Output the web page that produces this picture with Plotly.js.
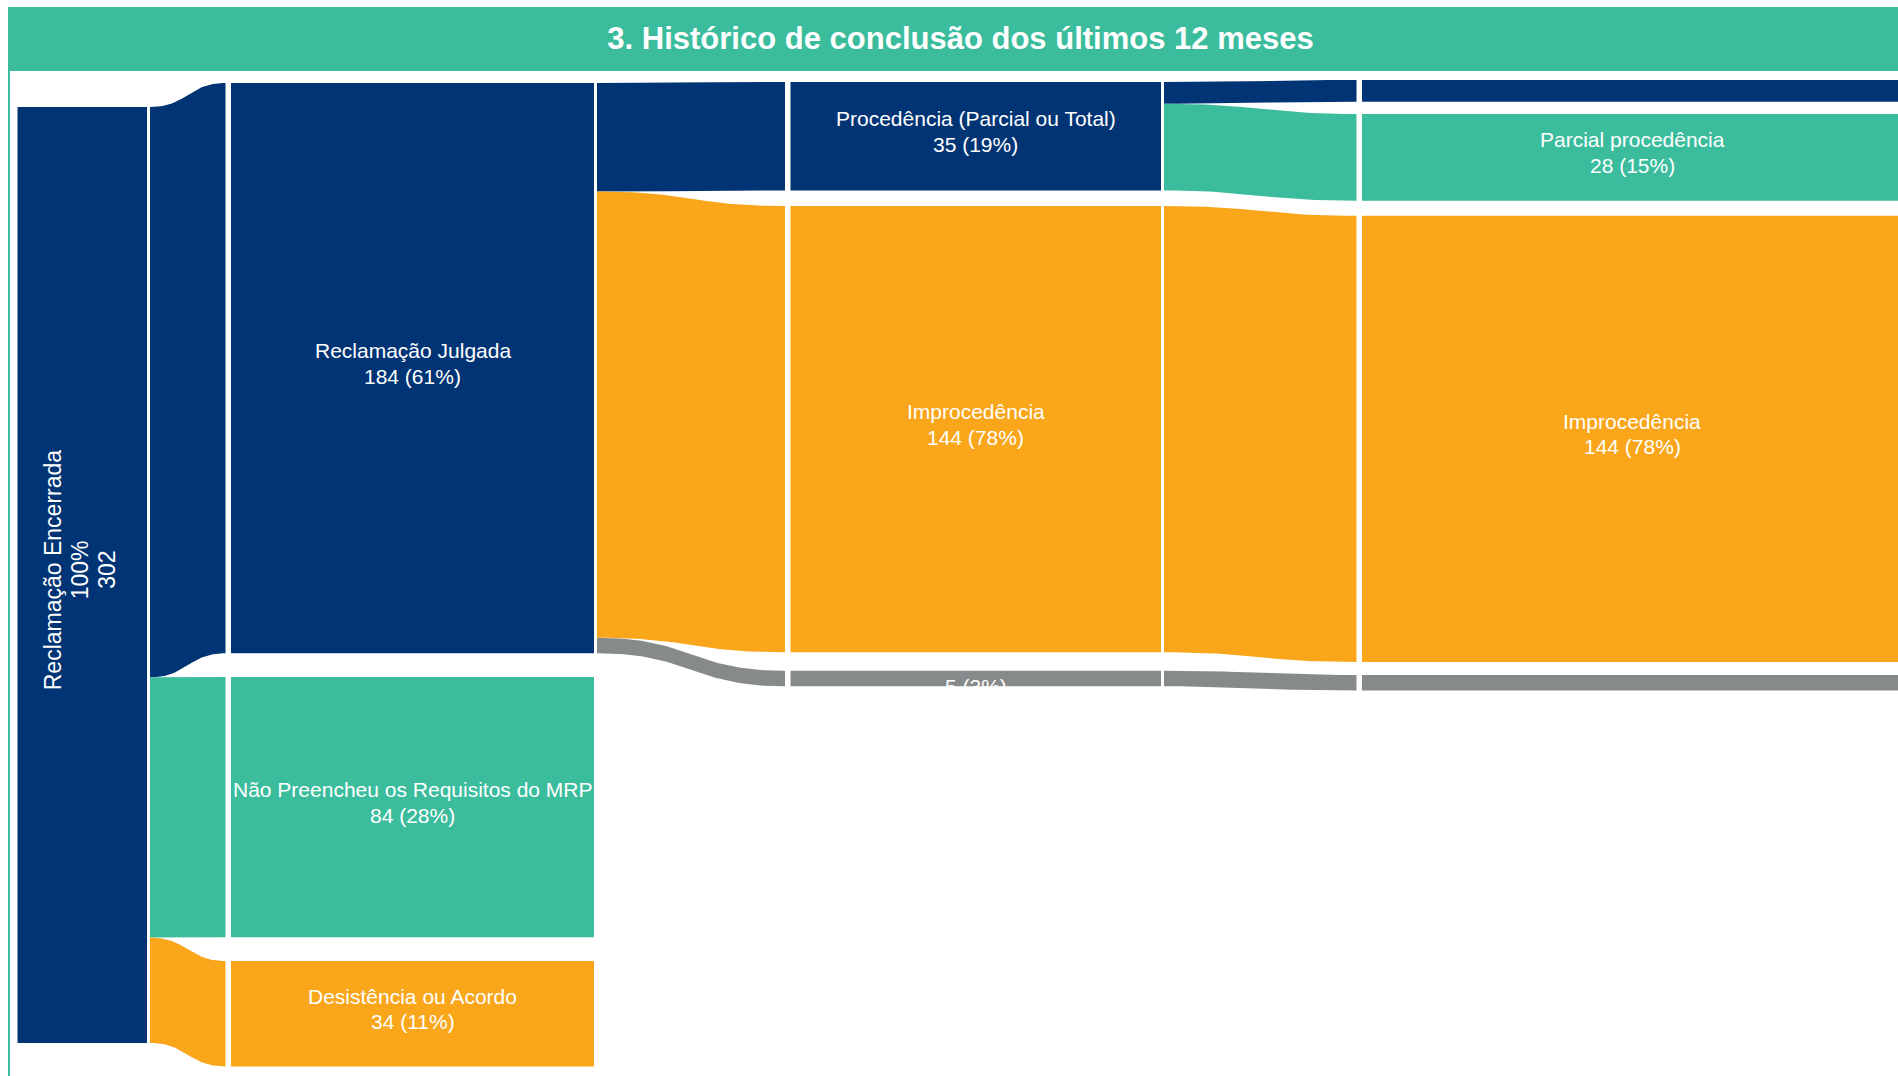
<!DOCTYPE html>
<html>
<head>
<meta charset="utf-8">
<script src="https://cdn.plot.ly/plotly-3.0.1.min.js"></script>
<style>
  html, body { margin: 0; padding: 0; background: #ffffff; }
  #chart { width: 1898px; height: 1076px; }
</style>
</head>
<body>
<div id="chart"></div>
<script>
// ---------------- DATA ----------------
const nodeNames = [
  "Reclamação Encerrada",
  "Reclamação Julgada",
  "Não Preencheu os Requisitos do MRP",
  "Desistência ou Acordo",
  "Procedência (Parcial ou Total)",
  "Improcedência",
  "",
  "",
  "Parcial procedência",
  "Improcedência",
  ""
];
const nodeValues   = [302, 184, 84, 34, 35, 144, 5, 7, 28, 144, 5];
const nodePercents = [100, 61, 28, 11, 19, 78, 3, 4, 15, 78, 3];
const nodeColumn   = [0, 1, 1, 1, 2, 2, 2, 3, 3, 3, 3];

const linkSource = [0, 0, 0, 1, 1, 1, 4, 4, 5, 6];
const linkTarget = [1, 2, 3, 4, 5, 6, 7, 8, 9, 10];
const linkValue  = [184, 84, 34, 35, 144, 5, 7, 28, 144, 5];

const chartTitle = "3. Histórico de conclusão dos últimos 12 meses";

// ---------------- STYLE / LAYOUT ----------------
const NAVY = "#013474", TEAL = "#3bbd9d", ORANGE = "#f9a61b", GRAY = "#878a8a";
const nodeColors = [NAVY, NAVY, TEAL, ORANGE, NAVY, ORANGE, GRAY, NAVY, TEAL, ORANGE, GRAY];
// label style per node: rotated | two | valueOnly | none
const labelMode = ["rotated", "two", "two", "two", "two", "two", "valueOnly", "none", "two", "two", "none"];

const W = 1898, H = 1076;
const K = 936 / 302;                // pixels per case
const ORIGIN = 107;                  // pixel row of value 0
const toU = px => (px - ORIGIN) / K; // pixel offset -> value units

const colX = [[17.5, 147], [231, 594], [790.5, 1161], [1362, 1902]];
const colTopPx = [107, 83, 82, 80];
const colGapsPx = [[], [23.7, 23.7], [15.5, 18.5], [12.3, 15, 13]];
const LINK_PAD_L = 3, LINK_PAD_R = 5.5;

// ---------------- NODE POSITIONS ----------------
const nodeY0 = [], nodeY1 = [];
const colCursor = colTopPx.map(p => toU(p));
const colCount = [0, 0, 0, 0];
nodeValues.forEach((v, i) => {
  const c = nodeColumn[i];
  if (colCount[c] > 0) colCursor[c] += colGapsPx[c][colCount[c] - 1] / K;
  nodeY0[i] = colCursor[c];
  nodeY1[i] = colCursor[c] + v;
  colCursor[c] = nodeY1[i];
  colCount[c]++;
});

const traces = [];

// ---------------- LINKS ----------------
const outOff = nodeY0.slice(), inOff = nodeY0.slice();
function bez(p0, p1, p2, p3, t) {
  const m = 1 - t;
  return m * m * m * p0 + 3 * m * m * t * p1 + 3 * m * t * t * p2 + t * t * t * p3;
}
linkValue.forEach((v, i) => {
  const s = linkSource[i], t = linkTarget[i];
  const c = nodeColumn[s];
  const xL = colX[c][1] + LINK_PAD_L, xR = colX[c + 1][0] - LINK_PAD_R, xm = (xL + xR) / 2;
  const sTop = outOff[s], sBot = sTop + v; outOff[s] = sBot;
  const tTop = inOff[t], tBot = tTop + v; inOff[t] = tBot;
  const xs = [], ys = [];
  const N = 48;
  for (let k = 0; k <= N; k++) {
    const u = k / N;
    xs.push(bez(xL, xm, xm, xR, u)); ys.push(bez(sTop, sTop, tTop, tTop, u));
  }
  for (let k = N; k >= 0; k--) {
    const u = k / N;
    xs.push(bez(xL, xm, xm, xR, u)); ys.push(bez(sBot, sBot, tBot, tBot, u));
  }
  xs.push(xs[0]); ys.push(ys[0]);
  traces.push({
    type: "scatter", mode: "lines", x: xs, y: ys, fill: "toself",
    fillcolor: nodeColors[t], line: { width: 0, color: nodeColors[t] },
    hoverinfo: "skip", showlegend: false
  });
});

// ---------------- NODES ----------------
nodeValues.forEach((v, i) => {
  const c = nodeColumn[i];
  const x0 = colX[c][0], x1 = colX[c][1];
  traces.push({
    type: "scatter", mode: "lines",
    x: [x0, x1, x1, x0, x0], y: [nodeY0[i], nodeY0[i], nodeY1[i], nodeY1[i], nodeY0[i]],
    fill: "toself", fillcolor: nodeColors[i], line: { width: 0, color: nodeColors[i] },
    hoverinfo: "skip", showlegend: false
  });
});

// ---------------- LABELS ----------------
const FONT = "Liberation Sans, Arial, Helvetica, sans-serif";
const annotations = [];
nodeValues.forEach((v, i) => {
  const c = nodeColumn[i];
  const cx = (colX[c][0] + colX[c][1]) / 2;
  const cy = (nodeY0[i] + nodeY1[i]) / 2;
  const base = { x: cx, y: cy, xref: "x", yref: "y", showarrow: false,
                 xanchor: "center", yanchor: "middle",
                 font: { family: FONT, size: 21, color: "#ffffff" } };
  const valueLine = v + " (" + nodePercents[i] + "%)";
  if (labelMode[i] === "rotated") {
    const lines = [nodeNames[i], nodePercents[i] + "%", String(v)];
    const shifts = [-29, -2, 24.5];
    lines.forEach((txt, j) => {
      annotations.push(Object.assign({}, base, {
        text: txt, textangle: -90, xshift: shifts[j], yshift: 5,
        font: { family: FONT, size: 23, color: "#ffffff" }
      }));
    });
  } else if (labelMode[i] === "two") {
    annotations.push(Object.assign({}, base, { text: nodeNames[i], yshift: 17.5 }));
    annotations.push(Object.assign({}, base, { text: valueLine, yshift: -8 }));
  } else if (labelMode[i] === "valueOnly") {
    annotations.push(Object.assign({}, base, { text: valueLine, yshift: -8 }));
  }
});

const layout = {
  width: W, height: H,
  margin: { l: 0, r: 0, t: 0, b: 0, pad: 0 },
  paper_bgcolor: "#ffffff", plot_bgcolor: "rgba(0,0,0,0)",
  showlegend: false,
  xaxis: { range: [0, W], visible: false, fixedrange: true },
  yaxis: { range: [toU(H), toU(0)], visible: false, fixedrange: true },
  title: {
    text: "<b>" + chartTitle + "</b>",
    font: { family: FONT, size: 31, color: "#ffffff" },
    x: 960.5 / W, xanchor: "center", xref: "paper",
    y: 1 - 38.5 / H, yanchor: "middle", yref: "container"
  },
  shapes: [
    { type: "rect", xref: "paper", yref: "paper", x0: 8 / W, x1: 1.01, y0: 1 - 71 / H, y1: 1 - 7 / H,
      fillcolor: TEAL, line: { width: 0 }, layer: "below" },
    { type: "line", xref: "paper", yref: "paper", x0: 9 / W, x1: 9 / W, y0: -0.01, y1: 1 - 71 / H,
      line: { color: TEAL, width: 2 }, layer: "below" }
  ],
  annotations: annotations
};

Plotly.newPlot("chart", traces, layout, { staticPlot: true, displayModeBar: false });
</script>
</body>
</html>
